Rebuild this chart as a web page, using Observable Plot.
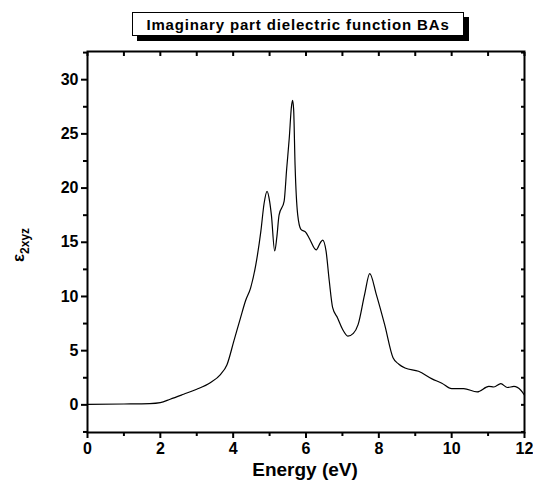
<!DOCTYPE html>
<html>
<head>
<meta charset="utf-8">
<script src="https://cdn.jsdelivr.net/npm/d3@7"></script>
<script src="https://cdn.jsdelivr.net/npm/@observablehq/plot@0.6"></script>
<style>
  html, body { margin: 0; padding: 0; background: #fff; }
  #wrap { position: relative; width: 533px; height: 491px; }
  #title {
    position: absolute; left: 132px; top: 12px; width: 330px; height: 22px;
    border: 1px solid #000; background: #fff; box-shadow: 5px 5px 0 #000;
    font: bold 15px "Liberation Sans", Arial, sans-serif; letter-spacing: 0.85px;
    text-align: center; line-height: 23px; white-space: nowrap; box-sizing: content-box;
  }
</style>
</head>
<body>
<div id="wrap"><div id="title">Imaginary part dielectric function BAs</div></div>
<script>
const energy = [0, 1.0, 1.71, 2.0, 2.27, 2.64, 3.0, 3.37, 3.65, 3.83, 4.02, 4.2, 4.34, 4.48, 4.62, 4.76, 4.85, 4.93, 5.0, 5.05, 5.14, 5.2, 5.26, 5.4, 5.47, 5.54, 5.6, 5.63, 5.66, 5.7, 5.77, 5.86, 6.0, 6.1, 6.28, 6.4, 6.46, 6.55, 6.64, 6.73, 6.87, 7.0, 7.15, 7.3, 7.43, 7.61, 7.75, 7.93, 8.16, 8.39, 8.55, 8.72, 9.09, 9.46, 9.73, 10.0, 10.33, 10.7, 11.02, 11.16, 11.35, 11.53, 11.71, 11.9, 12.0];
const eps2 = [0.05, 0.08, 0.12, 0.21, 0.52, 0.98, 1.44, 2.05, 2.8, 3.7, 5.9, 8.0, 9.6, 10.8, 12.9, 16.0, 18.6, 19.7, 18.8, 17.5, 14.2, 15.5, 17.5, 18.8, 21.8, 24.6, 27.5, 28.1, 27.3, 22.1, 17.6, 16.2, 15.9, 15.3, 14.3, 15.0, 15.2, 14.2, 11.4, 9.0, 8.0, 7.0, 6.35, 6.6, 7.4, 10.2, 12.1, 10.2, 7.4, 4.35, 3.75, 3.4, 3.1, 2.4, 2.0, 1.5, 1.5, 1.2, 1.7, 1.65, 1.95, 1.6, 1.7, 1.35, 0.9];
const xMajor = [0, 2, 4, 6, 8, 10, 12];
const xMinor = [1, 3, 5, 7, 9, 11];
const xTop = [0, 1, 2, 3, 4, 5, 6, 7, 8, 9, 10, 11, 12];
const yMajor = [0, 5, 10, 15, 20, 25, 30];
const yMinor = [-2.5, 2.5, 7.5, 12.5, 17.5, 22.5, 27.5, 32.5];
const yRight = [-2.5, 0, 2.5, 5, 7.5, 10, 12.5, 15, 17.5, 20, 22.5, 25, 27.5, 30, 32.5];

const data = energy.map((e, i) => ({e, v: eps2[i]}));

const chart = Plot.plot({
  width: 533, height: 491,
  marginLeft: 87, marginRight: 9, marginTop: 51, marginBottom: 59,
  style: {fontFamily: "'Liberation Sans', Arial, sans-serif", fontSize: "16px", fontWeight: "bold", color: "#000", background: "#fff"},
  x: {domain: [0, 12]},
  y: {domain: [-2.55, 32.6]},
  marks: [
    Plot.line(data, {x: "e", y: "v", curve: "monotone-x", stroke: "#000", strokeWidth: 1.2}),
    Plot.axisY(yMajor, {anchor: "left", tickSize: 6, tickPadding: 3, strokeWidth: 2, label: null, fontSize: 16, fontWeight: "bold"}),
    Plot.axisY(yMinor, {anchor: "left", tickSize: 4, strokeWidth: 2, text: null, label: null}),
    Plot.axisY(yRight, {anchor: "right", tickSize: -4, strokeWidth: 2, text: null, label: null}),
    Plot.axisX(xMajor, {anchor: "bottom", tickSize: 6, tickPadding: 4, strokeWidth: 2, label: null, fontSize: 16, fontWeight: "bold"}),
    Plot.axisX(xMinor, {anchor: "bottom", tickSize: 4, strokeWidth: 2, text: null, label: null}),
    Plot.axisX(xTop, {anchor: "top", tickSize: -4, strokeWidth: 2, text: null, label: null}),
    Plot.frame({stroke: "#000", strokeWidth: 2})
  ]
});

const svg = d3.select(chart);
svg.append("text")
  .attr("x", 305).attr("y", 476)
  .attr("text-anchor", "middle")
  .style("font", "bold 19px 'Liberation Sans', Arial, sans-serif")
  .text("Energy (eV)");

const yl = svg.append("text")
  .attr("transform", "translate(24,245) rotate(-90)")
  .attr("text-anchor", "middle")
  .style("font", "bold 17px 'Liberation Sans', Arial, sans-serif");
yl.append("tspan").text("ε");
yl.append("tspan").attr("dy", 5).style("font-size", "12px").text("2xyz");

chart.style.position = "absolute";
chart.style.left = "0";
chart.style.top = "0";
const wrap = document.getElementById("wrap");
wrap.insertBefore(chart, wrap.firstChild);
</script>
</body>
</html>
